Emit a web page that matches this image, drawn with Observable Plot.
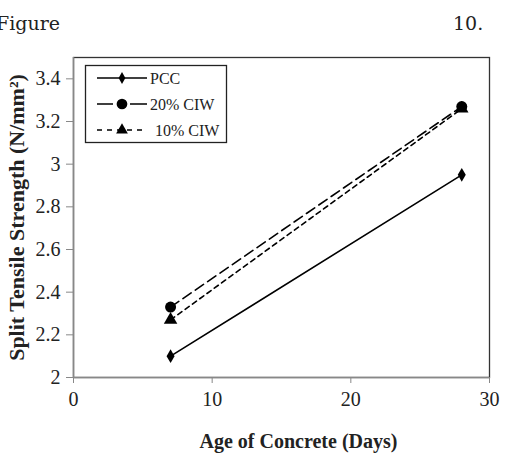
<!DOCTYPE html>
<html>
<head>
<meta charset="utf-8">
<script src="https://cdn.jsdelivr.net/npm/d3@7"></script>
<script src="https://cdn.jsdelivr.net/npm/@observablehq/plot@0.6"></script>
<style>
  body { margin: 0; background: #fff; }
  #wrap { position: relative; width: 517px; height: 458px; overflow: hidden; font-family: "Liberation Serif", serif; }
  .note { position: absolute; font-size: 19px; color: #222; font-family: "DejaVu Serif", "Liberation Serif", serif; }
  #legend { position: absolute; left: 0; top: 0; }
</style>
</head>
<body>
<div id="wrap">
  <div class="note" style="left:-4px; top:12px;">Figure</div>
  <div class="note" style="left:453px; top:12px;">10.</div>
</div>
<script>
// Test ages (days) and split tensile strength results (N/mm²)
const days = [7, 28];
const series = ["PCC", "20% CIW", "10% CIW"];
const pcc = [2.10, 2.95];
const ciw20 = [2.33, 3.27];
const ciw10 = [2.27, 3.26];
const xTicks = [0, 10, 20, 30];
const yTicks = [2, 2.2, 2.4, 2.6, 2.8, 3, 3.2, 3.4];

const rows = [];
[pcc, ciw20, ciw10].forEach((vals, i) =>
  vals.forEach((v, j) => rows.push({series: series[i], day: days[j], value: v})));

const styles = {
  "PCC": {dash: null, legendDash: null, symbol: "diamond", r: 4.2, textX: 150},
  "20% CIW": {dash: "10,5", legendDash: "16,17,17", symbol: "circle", r: 5.5, textX: 150},
  "10% CIW": {dash: "5,4", legendDash: "5,5", symbol: "triangle", r: 5, textX: 155}
};

const seriesMarks = series.flatMap(s => {
  const d = rows.filter(r => r.series === s);
  return [
    Plot.line(d, {x: "day", y: "value", stroke: "#000", strokeWidth: 1.6, strokeDasharray: styles[s].dash}),
    Plot.dot(d, {x: "day", y: "value", symbol: () => styles[s].symbol, r: styles[s].r, fill: "#000", stroke: "none"})
  ];
});

const chart = Plot.plot({
  width: 517,
  height: 458,
  marginLeft: 73,
  marginRight: 28,
  marginTop: 57,
  marginBottom: 81,
  style: {fontFamily: "'Liberation Serif', serif", fontSize: "20px", color: "#222", background: "transparent"},
  x: {domain: [0, 30], ticks: xTicks, label: null},
  y: {domain: [2, 3.5], ticks: yTicks, label: null},
  symbol: {domain: ["diamond", "circle", "triangle"], range: ["diamond", "circle", "triangle"]},
  marks: [
    Plot.frame({stroke: "#333", strokeWidth: 1.3}),
    Plot.ruleY([2], {stroke: "#888", strokeWidth: 1.5}),
    Plot.ruleX([0], {stroke: "#888", strokeWidth: 1.5}),
    Plot.axisY({ticks: yTicks, tickSize: 7, tickPadding: 6, stroke: "#888", tickFormat: d => String(d), fontSize: 20}),
    Plot.axisX({ticks: xTicks, tickSize: 6, tickPadding: 8, stroke: "#888", fontSize: 20}),
    ...seriesMarks,
    Plot.text(["Age of Concrete (Days)"], {frameAnchor: "bottom", dx: 17, dy: 70, fontWeight: "bold", fontSize: 20, fill: "#222"}),
    Plot.text(["Split Tensile Strength (N/mm²)"], {frameAnchor: "left", textAnchor: "middle", dx: -57, dy: 0, rotate: -90, fontWeight: "bold", fontSize: 22, fill: "#222"})
  ]
});
document.getElementById("wrap").prepend(chart);

// Legend box in the upper-left corner of the plot area
const lg = d3.select("#wrap").append("svg").attr("id", "legend").attr("width", 517).attr("height", 458);
lg.append("rect").attr("x", 85.5).attr("y", 65.5).attr("width", 141).attr("height", 77)
  .attr("fill", "#fff").attr("stroke", "#222").attr("stroke-width", 1.3);
const symGen = {diamond: d3.symbolDiamond, circle: d3.symbolCircle, triangle: d3.symbolTriangle};
const symSize = {diamond: 40, circle: 90, triangle: 60};
series.forEach((s, i) => {
  const y = 78 + i * 26;
  const st = styles[s];
  lg.append("line").attr("x1", 97).attr("x2", 147).attr("y1", y).attr("y2", y)
    .attr("stroke", "#000").attr("stroke-width", 1.6).attr("stroke-dasharray", st.legendDash);
  lg.append("path").attr("d", d3.symbol(symGen[st.symbol], symSize[st.symbol])())
    .attr("transform", `translate(122,${y})`).attr("fill", "#000");
  lg.append("text").attr("x", st.textX).attr("y", y + 5.5).text(s)
    .attr("font-family", "'Liberation Serif', serif").attr("font-size", 16).attr("fill", "#222");
});
</script>
</body>
</html>
